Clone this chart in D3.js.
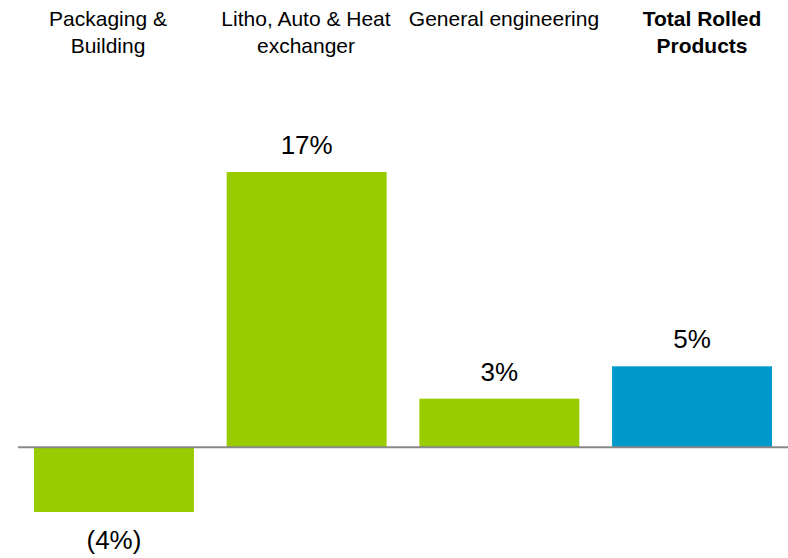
<!DOCTYPE html>
<head>
  <meta charset="utf-8">
  <script src="https://d3js.org/d3.v7.min.js"></script>
  <style>
    body { margin: 0; background: #fff; }
    text { font-family: "Liberation Sans", Arial, sans-serif; fill: #000; }
  </style>
</head>
<body>
<svg width="788" height="558"></svg>
<script>

  let categories = [["Packaging &", "Building"], ["Litho, Auto & Heat", "exchanger"], ["General engineering"], ["Total Rolled", "Products"]],
    values = [-4, 17, 3, 5],
    valueLabels = ["(4%)", "17%", "3%", "5%"],
    isTotal = [false, false, false, true];

  let svg = d3.select("svg"),
    width = 788,
    height = 558;

  let x = d3.scaleBand()
    .domain(d3.range(values.length))
    .range([18, 788])
    .paddingInner(0.17)
    .paddingOuter(0.083);

  // header labels sit on their own slightly wider grid
  let xLabel = d3.scalePoint()
    .domain(d3.range(values.length))
    .range([108, 702]);

  let y = d3.scaleLinear()
    .domain([-4, 17])
    .range([512, 172]);

  // bars
  svg.selectAll("rect.bar")
    .data(values)
    .enter().append("rect")
    .attr("class", "bar")
    .attr("x", (d, i) => x(i))
    .attr("width", x.bandwidth())
    .attr("y", d => y(Math.max(0, d)))
    .attr("height", d => Math.abs(y(d) - y(0)))
    .attr("fill", (d, i) => isTotal[i] ? "#0099cc" : "#99cc00");

  // zero line
  svg.append("line")
    .attr("x1", 18)
    .attr("x2", 788)
    .attr("y1", y(0))
    .attr("y2", y(0))
    .attr("stroke", "#888")
    .attr("stroke-width", 2);

  // value labels
  svg.selectAll("text.val")
    .data(values)
    .enter().append("text")
    .attr("class", "val")
    .attr("x", (d, i) => x(i) + x.bandwidth() / 2)
    .attr("y", d => d >= 0 ? y(d) - 18 : y(d) + 37)
    .attr("text-anchor", "middle")
    .style("font-size", "26px")
    .text((d, i) => valueLabels[i]);

  // category labels
  let cats = svg.selectAll("text.cat")
    .data(categories)
    .enter().append("text")
    .attr("class", "cat")
    .attr("text-anchor", "middle")
    .style("font-size", "21px")
    .style("font-weight", (d, i) => isTotal[i] ? "bold" : "normal");

  cats.selectAll("tspan")
    .data((d, i) => d.map(line => ({line: line, i: i})))
    .enter().append("tspan")
    .attr("x", d => xLabel(d.i))
    .attr("y", (d, j) => 26 + j * 27)
    .text(d => d.line);

</script>
</body>
